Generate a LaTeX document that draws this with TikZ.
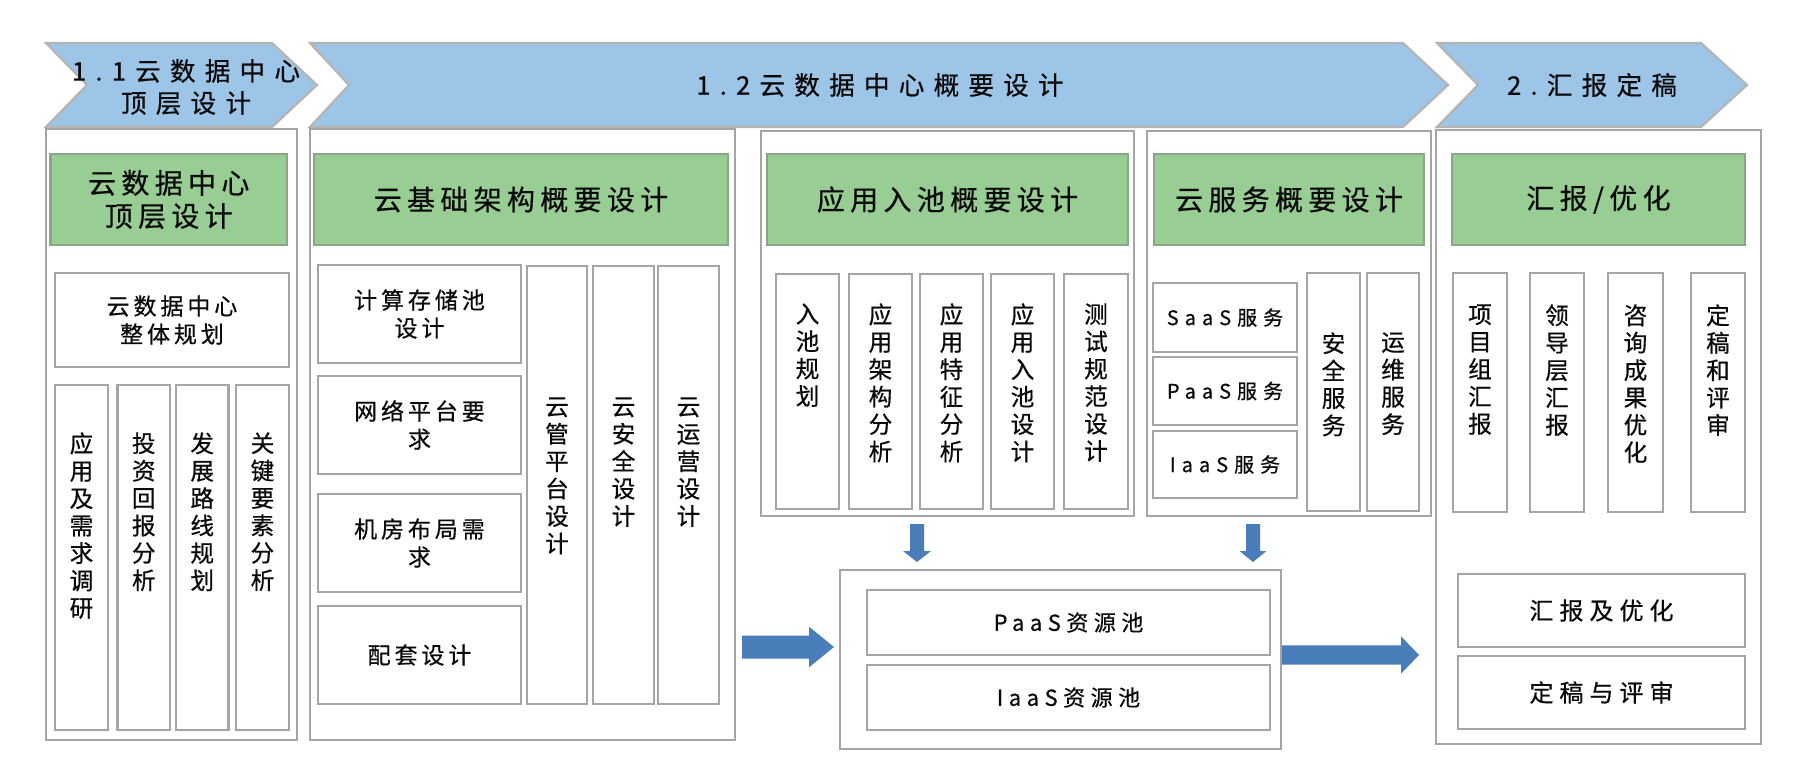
\documentclass[tikz,border=0pt]{standalone}
\usepackage{fontspec}
\setmainfont{Noto Sans CJK SC}[FakeBold=0.6]
\usetikzlibrary{calc}
\definecolor{chevfill}{RGB}{157,197,232}
\definecolor{chevline}{RGB}{180,180,180}
\definecolor{hgreen}{RGB}{152,205,147}
\definecolor{hgreenline}{RGB}{140,165,135}
\definecolor{boxline}{RGB}{165,165,165}
\definecolor{arrowblue}{RGB}{74,126,187}
\definecolor{txt}{RGB}{10,10,10}
\tikzset{
 outerbox/.style={draw=boxline, fill=white, line width=1.3pt, inner sep=0pt},
 headbox/.style={draw=hgreenline, fill=hgreen, line width=1.3pt, inner sep=0pt, align=center, text=txt, font={\fontsize{14}{16.5}\selectfont\addfontfeature{LetterSpace=19}}},
 innerbox/.style={draw=boxline, fill=white, line width=1.3pt, inner sep=0pt, align=center, text=txt, font={\fontsize{11.5}{14}\selectfont\addfontfeature{LetterSpace=17}}},
 svcbox/.style={innerbox, font={\fontsize{10}{12}\selectfont\addfontfeature{LetterSpace=30}}},
 poolbox/.style={innerbox, font={\fontsize{11}{13}\selectfont\addfontfeature{LetterSpace=25}}},
 repbox/.style={innerbox, font={\fontsize{12}{14}\selectfont\addfontfeature{LetterSpace=25}}},
 vtext/.style={anchor=north, inner sep=0pt, align=center, text=txt, font={\fontsize{11.8}{13.7}\selectfont}},
 chevron/.style={draw=chevline, fill=chevfill, line width=1.1pt, line join=miter},
 chevtext/.style={inner sep=0pt, align=center, text=txt, font={\fontsize{12.8}{16}\selectfont\addfontfeature{LetterSpace=36}}},
}
\newcommand\bx[7]{\node[#2, minimum width={(#5-#3)*0.5pt}, minimum height={(#6-#4)*0.5pt}] (#1) at ({(#3+#5)/2},{(#4+#6)/2}) {#7};}
\newcommand\vbx[8]{\bx{#1}{#2}{#3}{#4}{#5}{#6}{}\node[vtext] (#1t) at ({(#3+#5)/2},#7) {#8};}
\newcommand\harr[5]{\fill[arrowblue] ($(#1)+(0,-#3)$) -- ($(#2)+(-#5,-#3)$) -- ($(#2)+(-#5,-#4)$) -- (#2) -- ($(#2)+(-#5,#4)$) -- ($(#2)+(-#5,#3)$) -- ($(#1)+(0,#3)$) -- cycle;}
\newcommand\varr[5]{\fill[arrowblue] ($(#1)+(-#3,0)$) -- ($(#2)+(-#3,-#5)$) -- ($(#2)+(-#4,-#5)$) -- (#2) -- ($(#2)+(#4,-#5)$) -- ($(#2)+(#3,-#5)$) -- ($(#1)+(#3,0)$) -- cycle;}
\begin{document}
\begin{tikzpicture}[x=0.5pt,y=-0.5pt]
\fill[white] (0,0) rectangle (1800,782);
\path[use as bounding box] (0,0) rectangle (1800,782);
% chevrons
\draw[chevron] (46,43) -- (272,43) -- (317,85) -- (272,127) -- (46,127) -- (87,85) -- cycle;
\node[chevtext] (c11) at (186,87) {1.1云数据中心\\顶层设计};
\draw[chevron] (310,43) -- (1403,43) -- (1448,85) -- (1403,127) -- (310,127) -- (349,85) -- cycle;
\node[chevtext] (c12) at (880,85) {1.2云数据中心概要设计};
\draw[chevron] (1437,43) -- (1701,43) -- (1747,85) -- (1701,127) -- (1437,127) -- (1478,85) -- cycle;
\node[chevtext] (c2) at (1592,85) {2.汇报定稿};
% column A
\bx{A}{outerbox}{46}{129}{297}{740}{}
\bx{Ah}{headbox}{50.5}{154}{287}{245}{云数据中心\\顶层设计}
\bx{Ap}{innerbox}{55}{273}{289}{367}{云数据中心\\整体规划}
\vbx{A1}{innerbox}{55}{385}{108}{730}{432}{应\\用\\及\\需\\求\\调\\研}
\vbx{A2}{innerbox}{117.5}{385}{170}{730}{432}{投\\资\\回\\报\\分\\析}
\vbx{A3}{innerbox}{176}{385}{228.5}{730}{432}{发\\展\\路\\线\\规\\划}
\vbx{A4}{innerbox}{236}{385}{289}{730}{432}{关\\键\\要\\素\\分\\析}
% column B
\bx{B}{outerbox}{310}{129}{735}{740}{}
\bx{Bh}{headbox}{314}{154}{728}{245}{云基础架构概要设计}
\bx{B1}{innerbox}{318}{265}{521}{363}{计算存储池\\设计}
\bx{B2}{innerbox}{318}{376}{521}{474}{网络平台要\\求}
\bx{B3}{innerbox}{318}{494}{521}{592}{机房布局需\\求}
\bx{B4}{innerbox}{318}{606}{521}{704}{配套设计}
\vbx{B5}{innerbox}{527}{266}{587}{704}{397}{云\\管\\平\\台\\设\\计}
\vbx{B6}{innerbox}{593}{266}{654}{704}{397}{云\\安\\全\\设\\计}
\vbx{B7}{innerbox}{658}{266}{719}{704}{397}{云\\运\\营\\设\\计}
% column C
\bx{C}{outerbox}{761}{131}{1134}{516}{}
\bx{Ch}{headbox}{767}{154}{1128}{245}{应用入池概要设计}
\vbx{C1}{innerbox}{776}{274}{839}{509}{303}{入\\池\\规\\划}
\vbx{C2}{innerbox}{849}{274}{912}{509}{303}{应\\用\\架\\构\\分\\析}
\vbx{C3}{innerbox}{920}{274}{983}{509}{303}{应\\用\\特\\征\\分\\析}
\vbx{C4}{innerbox}{991}{274}{1054}{509}{303}{应\\用\\入\\池\\设\\计}
\vbx{C5}{innerbox}{1064}{274}{1128}{509}{303}{测\\试\\规\\范\\设\\计}
% column S
\bx{S}{outerbox}{1147}{131}{1431}{516}{}
\bx{Sh}{headbox}{1154}{154}{1424}{245}{云服务概要设计}
\bx{S1}{svcbox}{1153}{283}{1297}{352}{SaaS服务}
\bx{S2}{svcbox}{1153}{357}{1297}{425}{PaaS服务}
\bx{S3}{svcbox}{1153}{431}{1297}{498}{IaaS服务}
\vbx{S4}{innerbox}{1307}{273}{1360}{511}{332}{安\\全\\服\\务}
\vbx{S5}{innerbox}{1367}{273}{1419}{511}{332}{运\\维\\服\\务}
% column D
\bx{D}{outerbox}{1436}{130}{1761}{744}{}
\bx{Dh}{headbox}{1452}{154}{1745}{245}{汇报/优化}
\vbx{D1}{innerbox}{1453}{273}{1507}{512}{304}{项\\目\\组\\汇\\报}
\vbx{D2}{innerbox}{1530}{273}{1584}{512}{304}{领\\导\\层\\汇\\报}
\vbx{D3}{innerbox}{1608}{273}{1663}{512}{304}{咨\\询\\成\\果\\优\\化}
\vbx{D4}{innerbox}{1691}{273}{1745}{512}{304}{定\\稿\\和\\评\\审}
\bx{D5}{repbox}{1458}{574}{1745}{647}{汇报及优化}
\bx{D6}{repbox}{1458}{656}{1745}{729}{定稿与评审}
% pool
\bx{E}{outerbox}{840}{570}{1281}{749}{}
\bx{E1}{poolbox}{867}{590}{1270}{655}{PaaS资源池}
\bx{E2}{poolbox}{867}{665}{1270}{730}{IaaS资源池}
% arrows
\coordinate (la1) at (742,647); \coordinate (la2) at (834,647);
\harr{la1}{la2}{11.5}{20.3}{25}
\coordinate (ra1) at (1282,655); \coordinate (ra2) at (1419,655);
\harr{ra1}{ra2}{9.7}{18.7}{18}
\coordinate (da1) at (917,524); \coordinate (da2) at (917,562);
\varr{da1}{da2}{7}{14}{11}
\coordinate (db1) at (1253,524); \coordinate (db2) at (1253,562);
\varr{db1}{db2}{7}{13.5}{11}
\end{tikzpicture}
\end{document}
